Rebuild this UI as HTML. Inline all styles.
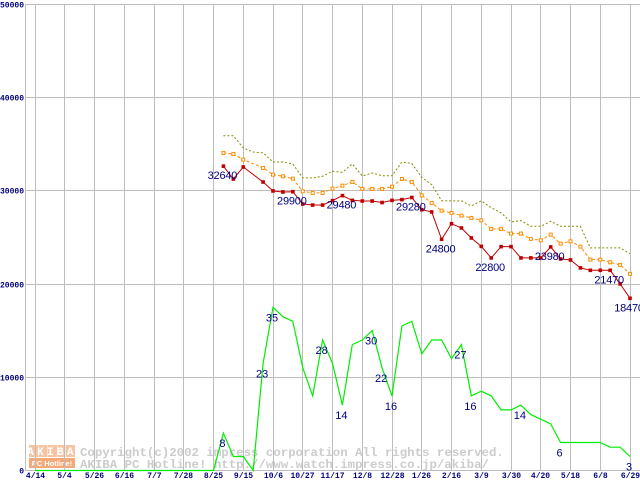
<!DOCTYPE html>
<html><head><meta charset="utf-8"><style>
html,body{margin:0;padding:0;background:#fff;}
svg{display:block;}
</style></head><body>
<svg id="chart" width="640" height="480" viewBox="0 0 640 480" xmlns="http://www.w3.org/2000/svg">
<g id="wm">
  <g>
    <rect x="29" y="445" width="9" height="12" fill="#f6c4a2"/>
    <rect x="38.5" y="445" width="9" height="12" fill="#f6c4a2"/>
    <rect x="48" y="445" width="9" height="12" fill="#f6c4a2"/>
    <rect x="57.5" y="445" width="8" height="12" fill="#f6c4a2"/>
    <rect x="66" y="445" width="9" height="12" fill="#f6c4a2"/>
    <text x="52" y="455" font-family="Liberation Mono, monospace" font-weight="bold" font-size="11" fill="#fff" text-anchor="middle" letter-spacing="3.3">AKIBA</text>
    <rect x="29" y="458" width="46" height="10" fill="#f4a878"/>
    <text x="52" y="466" font-family="Liberation Sans, sans-serif" font-weight="bold" font-size="7.5" fill="#fff" text-anchor="middle">PC Hotline!</text>
  </g>
  <text x="80" y="456" font-family="Liberation Mono, monospace" font-weight="bold" font-size="12.4" fill="#cccccc">Copyright(c)2002 impress corporation All rights reserved.</text>
  <text x="80" y="468" font-family="Liberation Mono, monospace" font-weight="bold" font-size="12.4" fill="#cccccc">AKIBA PC Hotline!  http://www.watch.impress.co.jp/akiba/</text>
</g>
<g id="grid"></g>
<g id="axes"></g>
<g id="series"></g>
<g id="labels"></g>
</svg>
<script>
const xTickLabels = ["4/14","5/4","5/26","6/16","7/7","7/28","8/25","9/15","10/6","10/27","11/17","12/8","12/28","1/26","2/16","3/9","3/30","4/20","5/18","6/8","6/29"];
const yTicks = [0,10000,20000,30000,40000,50000];
const redStart = 19;
const redValues = [32640,31260,32550,null,30940,29980,29870,29900,28580,28470,28470,28940,29480,28970,28900,28900,28740,28970,29050,29280,27970,27730,24800,26470,26010,24940,24040,22800,24010,24010,22800,22800,22800,23980,22690,22580,21730,21470,21470,21470,20010,18470];
const orangeValues = [34060,33950,33340,null,32450,31730,31550,31300,29940,29770,29770,30230,30550,30950,30200,30200,30200,30440,31270,30950,29510,28700,27870,27630,27340,27090,26830,25910,25910,25410,25410,24840,24690,25300,24330,24580,24010,22620,22620,22330,22050,21090];
const oliveValues = [35910,35910,34590,34160,34060,33090,33090,32880,31380,31380,31550,32090,31980,32880,31590,31910,31620,31620,33090,32930,31430,30660,28940,28910,28910,28380,28910,28190,27630,26660,26800,26190,26190,26730,26190,26190,26190,23870,23870,23870,23870,23260];
const greenValues = [0,0,0,0,0,0,0,0,0,0,0,0,0,0,0,0,0,0,0,8,3,3,0,23,35,33,32,22,16,28,23,14,27,28,30,22,16,31,32,25,28,28,24,27,16,17,16,13,13,14,12,11,10,6,6,6,6,6,5,5,3];
const redLabelIdx = [0,7,12,19,22,27,33,39,41];
const greenLabelIdx = [19,23,24,29,31,34,35,36,43,44,49,53,60];
const greenScale = 500;

const NS = "http://www.w3.org/2000/svg";
function xOf(j){ return 35 + j*9.917; }
function yOf(v){ return 470.5 - v*0.009324; }
function crisp(p){ return Math.round(p-0.5)+0.5; }
function mk(tag, attrs, parent){ const e=document.createElementNS(NS,tag); for(const k in attrs) e.setAttribute(k,attrs[k]); parent.appendChild(e); return e; }
const grid=document.getElementById('grid'), axes=document.getElementById('axes'), series=document.getElementById('series'), labels=document.getElementById('labels');

yTicks.forEach(v=>{
  const y=crisp(yOf(v));
  const l=mk('line',{x1:25,x2:640,y1:y,y2:y,stroke:'#bdbdbd','stroke-width':1},grid);
  
  
  const t=mk('text',{x:v===0?24:0,y:y+3,'font-family':'Liberation Mono, monospace','font-weight':'bold','font-size':8,fill:'#000080','text-anchor':v===0?'end':'start'},axes);
  t.textContent=String(v);
  
  
});
const ax=mk('line',{x1:25.5,x2:25.5,y1:yOf(50000),y2:yOf(0),stroke:'#bdbdbd','stroke-width':1},grid);


xTickLabels.forEach((s,i)=>{
  const x=crisp(xOf(i*3));
  const l=mk('line',{x1:x,x2:x,y1:yOf(50000),y2:yOf(0),stroke:'#bdbdbd','stroke-width':1},grid);
  
  
  const t=mk('text',{x:x,y:478,'font-family':'Liberation Mono, monospace','font-weight':'bold','font-size':8,fill:'#000080','text-anchor':'middle'},axes);
  t.textContent=s;
  
  
});

function pathFor(vals, start, scale){
  let d='';
  vals.forEach((v,i)=>{ if(v===null) return; d+=(d?'L':'M')+xOf(start+i).toFixed(1)+','+yOf(v*scale).toFixed(1); });
  return d;
}
const g1=mk('path',{d:pathFor(greenValues,0,greenScale),fill:'none',stroke:'#00ee00','stroke-width':1.2},series);


const o1=mk('path',{d:pathFor(oliveValues,redStart,1),fill:'none',stroke:'#8a8a00','stroke-width':1,'stroke-dasharray':'2,2'},series);


const or=mk('path',{d:pathFor(orangeValues,redStart,1),fill:'none',stroke:'#ff8c00','stroke-width':1,'stroke-dasharray':'3,2'},series);


orangeValues.forEach((v,i)=>{ if(v===null) return;
  const r=mk('rect',{x:xOf(redStart+i)-1.5,y:yOf(v)-1.5,width:3,height:3,fill:'#fff',stroke:'#ff8c00','stroke-width':1},series);
  
  
});
const rl=mk('path',{d:pathFor(redValues,redStart,1),fill:'none',stroke:'#c00000','stroke-width':1},series);


redValues.forEach((v,i)=>{ if(v===null) return;
  const r=mk('rect',{x:xOf(redStart+i)-1.8,y:yOf(v)-1.8,width:3.6,height:3.6,fill:'#c00000'},series);
  
  
});
redLabelIdx.forEach(k=>{
  const v=redValues[k];
  const t=mk('text',{x:xOf(redStart+k)-1,y:yOf(v)+13,'font-family':'Liberation Sans, sans-serif','font-size':11,fill:'#000080','text-anchor':'middle','letter-spacing':'-0.2'},labels);
  t.textContent=String(v);
  
  
});
greenLabelIdx.forEach(j=>{
  const v=greenValues[j];
  const t=mk('text',{x:xOf(j)-1,y:yOf(v*greenScale)+14,'font-family':'Liberation Sans, sans-serif','font-size':11,fill:'#000080','text-anchor':'middle'},labels);
  t.textContent=String(v);
  
  
});
</script>
</body></html>
